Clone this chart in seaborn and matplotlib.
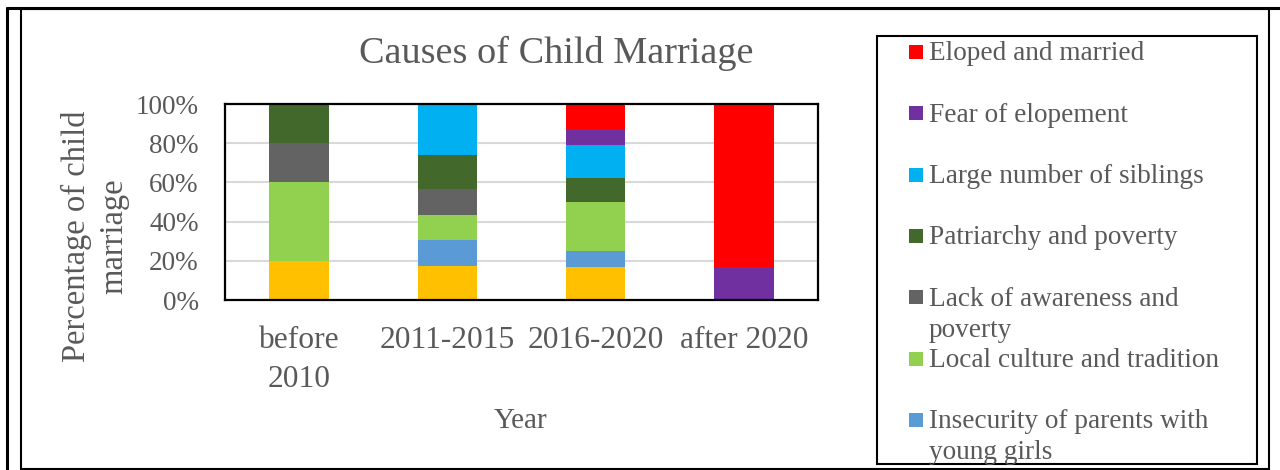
import matplotlib
matplotlib.use("Agg")
import matplotlib.pyplot as plt
from matplotlib.patches import Rectangle
import pandas as pd
import seaborn as sns

# categories on the x axis
periods = ["before\n2010", "2011-2015", "2016-2020", "after 2020"]

# causes, listed from the bottom of each bar to the top (share of child marriages, %)
causes = [
    "Other reasons",
    "Insecurity of parents with\nyoung girls",
    "Local culture and tradition",
    "Lack of awareness and\npoverty",
    "Patriarchy and poverty",
    "Large number of siblings",
    "Fear of elopement",
    "Eloped and married",
]
other = [20.0, 17.4, 16.7, 0.0]
insecurity = [0.0, 13.0, 8.3, 0.0]
culture = [40.0, 13.0, 25.0, 0.0]
awareness = [20.0, 13.0, 0.0, 0.0]
patriarchy = [20.0, 17.4, 12.5, 0.0]
siblings = [0.0, 26.1, 16.7, 0.0]
fear = [0.0, 0.0, 8.3, 16.7]
eloped = [0.0, 0.0, 12.5, 83.3]

colors = ["#FFC000", "#5B9BD5", "#92D050", "#636363",
          "#43682B", "#00B0F0", "#7030A0", "#FF0000"]

y_ticks = [0, 20, 40, 60, 80, 100]
y_tick_labels = [f"{v}%" for v in y_ticks]

TEXT = "#595959"


def main():
    sns.set_theme(style="white")
    plt.rcParams["font.family"] = ["Liberation Serif", "DejaVu Serif"]

    df = pd.DataFrame(
        [other, insecurity, culture, awareness, patriarchy, siblings, fear, eloped],
        index=causes, columns=periods,
    ).T
    cum = df.cumsum(axis=1)

    fig = plt.figure(figsize=(12.8, 4.7), dpi=100)
    ax = fig.add_axes([225 / 1280, 1 - 300 / 470, 593 / 1280, 196 / 470])

    # stacked bars: draw cumulative totals from the top series down
    for name, color in zip(reversed(causes), reversed(colors)):
        sns.barplot(x=periods, y=cum[name].values, color=color, width=0.4,
                    saturation=1, errorbar=None, linewidth=0, ax=ax)

    ax.set_ylim(0, 100)
    ax.set_yticks(y_ticks)
    ax.set_yticklabels(y_tick_labels)
    ax.set_xlabel("")
    ax.set_ylabel("")
    ax.yaxis.grid(True, color="#D9D9D9", linewidth=1.5)
    ax.set_axisbelow(True)
    for sp in ax.spines.values():
        sp.set_visible(True)
        sp.set_color("black")
        sp.set_linewidth(1.6)
    ax.tick_params(axis="x", length=0, pad=18.5, labelsize=22.7, labelcolor=TEXT)
    ax.tick_params(axis="y", length=0, pad=19, labelsize=19.5, labelcolor=TEXT)
    plt.setp(ax.get_xticklabels(), linespacing=1.48)

    # overlay in pixel coordinates for frame, titles and legend
    ov = fig.add_axes([0, 0, 1, 1], zorder=3)
    ov.set_xlim(0, 1280)
    ov.set_ylim(470, 0)
    ov.axis("off")

    ov.plot([7, 1280], [8, 8], color="black", lw=2.2)
    ov.plot([7, 7], [8, 470], color="black", lw=2.2)
    ov.add_patch(Rectangle((21, 9), 1248, 460, fill=False, ec="black", lw=1.5))

    ov.text(556, 63, "Causes of Child Marriage", ha="center", va="baseline",
            fontsize=27.5, color=TEXT)
    ov.text(95, 236, "Percentage of child\nmarriage", ha="center", va="center",
            rotation=90, fontsize=23.5, color=TEXT, linespacing=1.3)
    ov.text(521, 428, "Year", ha="center", va="baseline", fontsize=21, color=TEXT)

    # legend box, entries in reverse stacking order, clipped like the original
    box = Rectangle((877, 36), 380, 428, fill=False, ec="black", lw=1.5)
    ov.add_patch(box)
    for i, (name, color) in enumerate(zip(causes[:0:-1], colors[:0:-1])):
        base = 60 + 61.3 * i
        ov.add_patch(Rectangle((909, base - 15), 14, 14, fc=color, ec="none"))
        t = ov.text(929, base - 18.5, name, ha="left", va="top", fontsize=19.6,
                    color=TEXT, linespacing=1.32)
        t.set_clip_path(box)

    fig.savefig("out.png", dpi=100)


if __name__ == "__main__":
    main()
